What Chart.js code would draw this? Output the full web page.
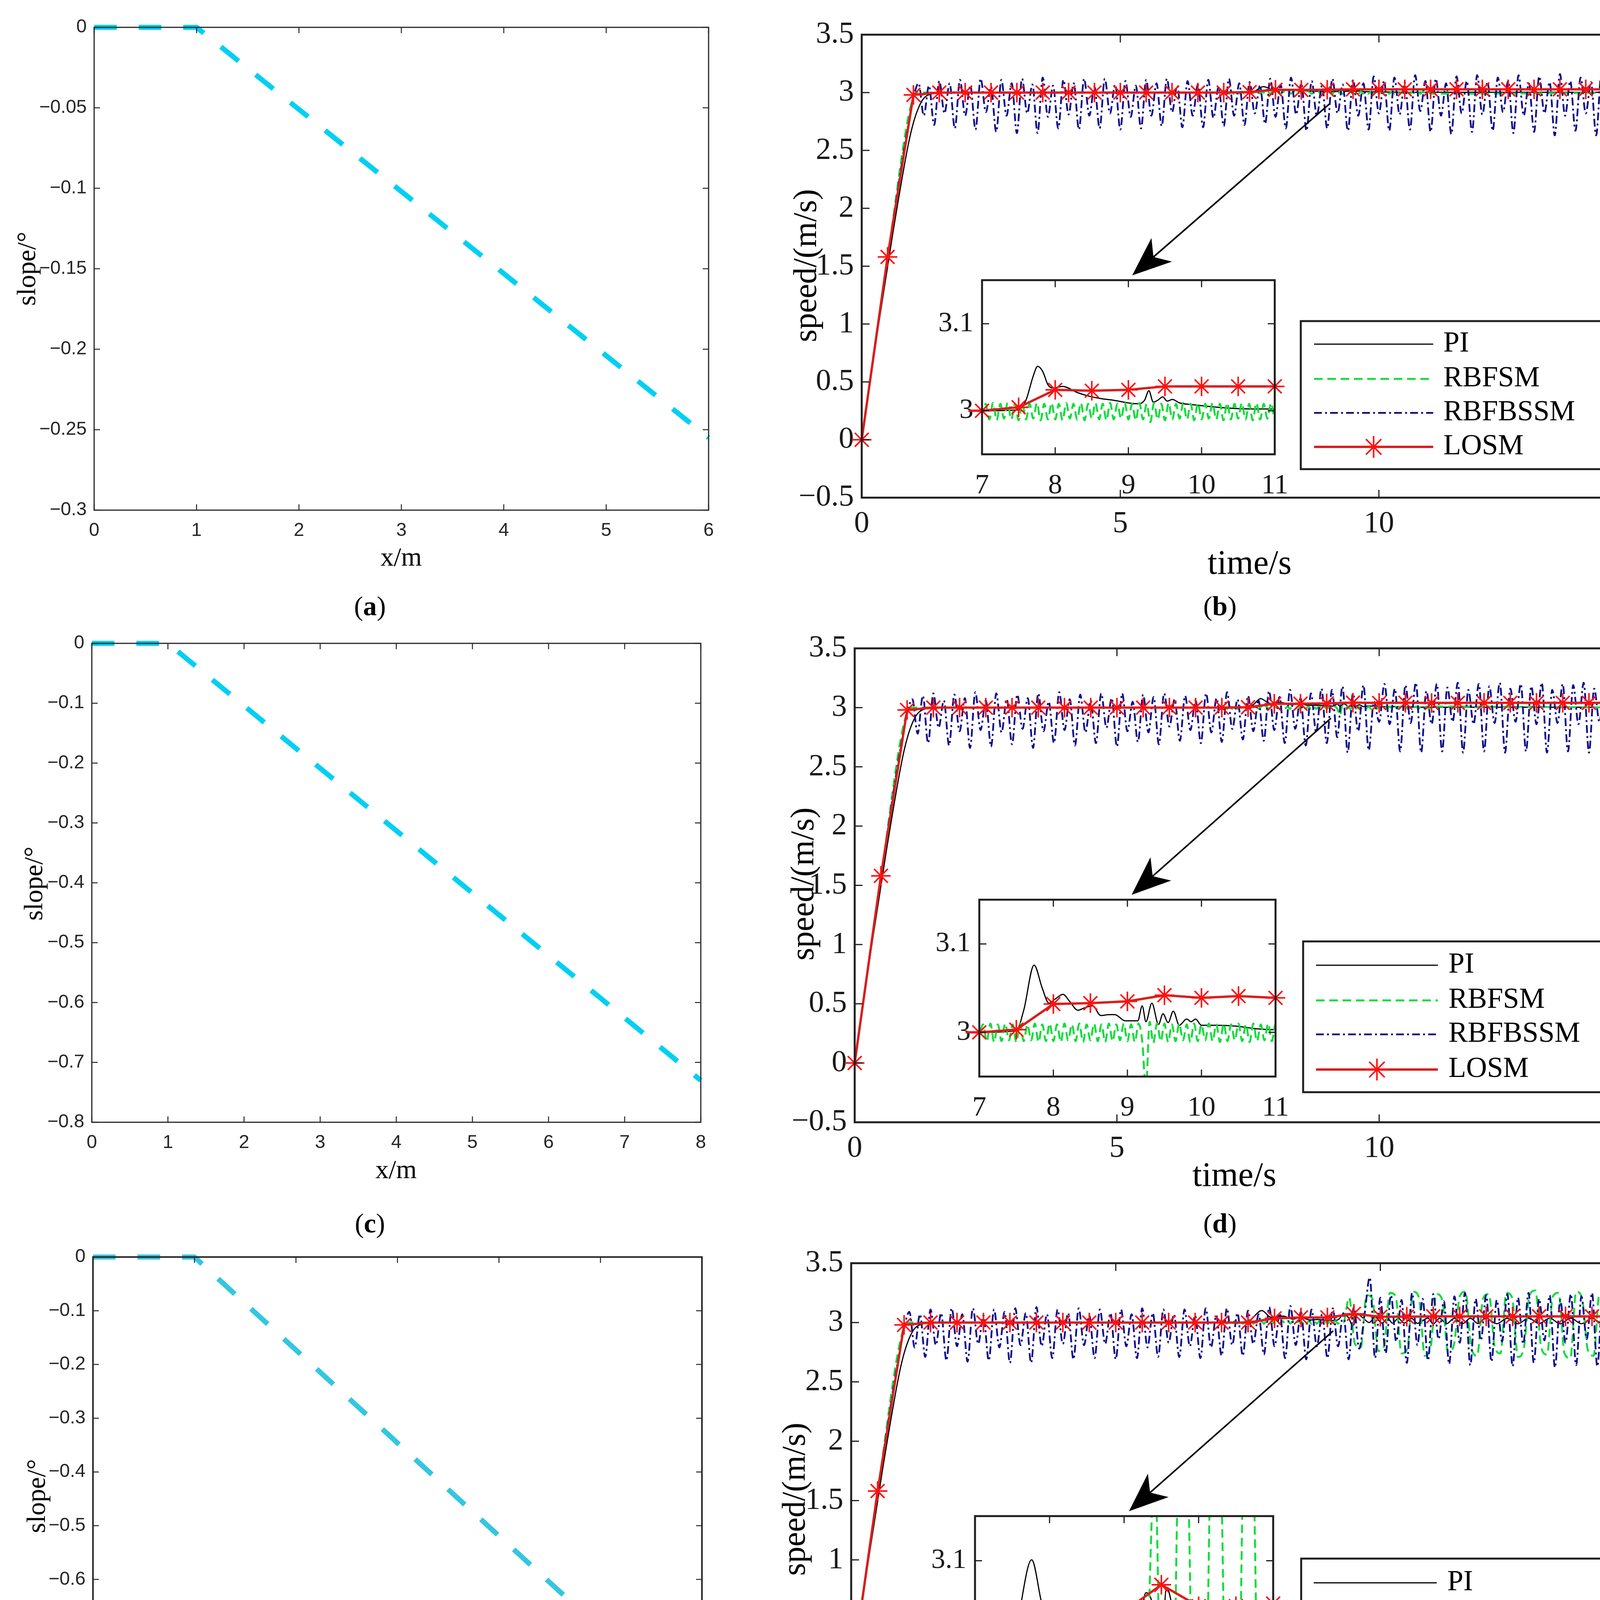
<!DOCTYPE html>
<html>
<head>
<meta charset="utf-8">
<script src="https://cdn.jsdelivr.net/npm/chart.js"></script>
<style>
  html, body { margin: 0; padding: 0; background: #fff; }
  #page { position: relative; width: 4279px; height: 4796px; overflow: hidden; background: #fff; }
  #page canvas { position: absolute; }
  .lbl { position: absolute; white-space: nowrap; line-height: 1; color: #000;
         font-family: "Liberation Serif", "Times New Roman", serif;
         transform: translate(-50%, -50%); }
  .rot { transform: translate(-50%, -50%) rotate(-90deg); }
</style>
</head>
<body>
<div id="page"></div>
<script>
// ---------- slope profiles, left column ----------
const slopeA_x = [0, 1, 6];
const slopeA_y = [0, 0, -0.255];
const slopeC_x = [0, 1, 8];
const slopeC_y = [0, 0, -0.73];
const slopeE_x = [0, 1, 6];
const slopeE_y = [0, 0, -0.865];

const slopeA_xticks = [0, 1, 2, 3, 4, 5, 6];
const slopeA_yticks = [0, -0.05, -0.1, -0.15, -0.2, -0.25, -0.3];
const slopeC_xticks = [0, 1, 2, 3, 4, 5, 6, 7, 8];
const slopeC_yticks = [0, -0.1, -0.2, -0.3, -0.4, -0.5, -0.6, -0.7, -0.8];
const slopeE_xticks = [0, 1, 2, 3, 4, 5, 6];
const slopeE_yticks = [0, -0.1, -0.2, -0.3, -0.4, -0.5, -0.6, -0.7, -0.8, -0.9];

// ---------- speed responses, right column ----------
const timeTicks = [0, 5, 10, 15];
const speedTicks = [-0.5, 0, 0.5, 1, 1.5, 2, 2.5, 3, 3.5];
const zoomTicksX = [7, 8, 9, 10, 11];
const zoomTicksY = [3, 3.1];
const legendNames = ['PI', 'RBFSM', 'RBFBSSM', 'LOSM'];

// LOSM, one marker every 0.5 s
const losmT = [0, 0.5, 1, 1.5, 2, 2.5, 3, 3.5, 4, 4.5, 5, 5.5, 6, 6.5, 7, 7.5,
  8, 8.5, 9, 9.5, 10, 10.5, 11, 11.5, 12, 12.5, 13, 13.5, 14, 14.5, 15];
const losmB = [0, 1.58, 2.98, 3.0, 3.0, 3.0, 3.0, 3.0, 3.0, 3.0, 3.0, 3.0, 3.0, 3.0, 3.0,
  3.004, 3.024, 3.023, 3.024, 3.028, 3.028, 3.028, 3.028, 3.028, 3.028, 3.028, 3.028, 3.028, 3.028, 3.028, 3.028];
const losmD = [0, 1.58, 2.98, 3.0, 3.0, 3.0, 3.0, 3.0, 3.0, 3.0, 3.0, 3.0, 3.0, 3.0, 3.0,
  3.003, 3.032, 3.033, 3.035, 3.042, 3.039, 3.041, 3.039, 3.04, 3.04, 3.04, 3.04, 3.04, 3.04, 3.04, 3.04];
const losmF = [0, 1.58, 2.98, 3.0, 3.0, 3.0, 3.0, 3.0, 3.0, 3.0, 3.0, 3.0, 3.0, 3.0, 3.0,
  3.0, 3.035, 3.043, 3.043, 3.073, 3.049, 3.049, 3.052, 3.052, 3.052, 3.052, 3.052, 3.052, 3.052, 3.052, 3.052];

// PI: start-up ramp shared, then per-case detail
const piRampT = [0, 0.3, 0.6, 0.9, 1.0, 1.1, 1.2, 1.35, 1.5];
const piRampV = [0, 0.92, 1.78, 2.55, 2.74, 2.87, 2.95, 2.99, 3.0];
const piB_t = [7, 7.5, 7.6, 7.7, 7.76, 7.83, 7.9, 7.97, 8.1, 8.3, 8.45, 8.62, 8.8, 9.0, 9.14,
  9.22, 9.28, 9.34, 9.4, 9.47, 9.53, 9.6, 9.7, 9.88, 10.1, 10.37, 10.7, 11, 15];
const piB_v = [3.0, 3.001, 3.012, 3.04, 3.051, 3.045, 3.03, 3.026, 3.028, 3.021, 3.017, 3.014, 3.012, 3.009, 3.008,
  3.012, 3.023, 3.01, 3.012, 3.016, 3.011, 3.013, 3.009, 3.007, 3.005, 3.003, 3.002, 3.002, 3.002];
const piD_t = [7, 7.5, 7.6, 7.74, 7.85, 7.94, 8.03, 8.13, 8.22, 8.33, 8.43, 8.53, 8.64, 8.75, 8.83, 8.97, 9.14,
  9.2, 9.25, 9.33, 9.42, 9.48, 9.55, 9.62, 9.7, 9.8, 9.86, 9.92, 10.0, 10.2, 10.47, 10.75, 11, 15];
const piD_v = [3.0, 3.002, 3.025, 3.076, 3.05, 3.033, 3.038, 3.043, 3.035, 3.025, 3.028, 3.03, 3.019, 3.02, 3.02, 3.013, 3.013,
  3.03, 3.012, 3.033, 3.009, 3.021, 3.011, 3.024, 3.008, 3.015, 3.012, 3.015, 3.008, 3.008, 3.007, 3.004, 3.003, 3.003];
const piF_t = [7, 7.5, 7.58, 7.76, 7.91, 7.99, 8.16, 8.35, 8.49, 8.68, 8.82, 9.01, 9.15, 9.22, 9.29, 9.35, 9.4, 9.48,
  9.57, 9.68, 9.79, 9.9, 10.03, 10.14, 10.23, 10.34, 10.45, 10.59, 10.7, 10.9, 11.0, 11.12, 11.25, 11.4, 11.55,
  11.7, 11.85, 12.0, 12.2, 12.4, 12.6, 12.8, 13.0, 13.2, 13.4, 13.6, 13.8, 14.0, 14.2, 14.4, 14.6, 14.8, 15.0];
const piF_v = [3.0, 3.0, 3.035, 3.101, 3.048, 3.042, 3.054, 3.029, 3.042, 3.022, 3.026, 3.016, 3.017, 3.03, 3.064, 3.06, 3.04, 2.971,
  3.07, 3.035, 3.0, 3.047, 2.995, 3.035, 2.995, 3.035, 2.995, 3.035, 2.993, 3.038, 2.988, 3.036, 2.99, 3.037, 2.99,
  3.036, 2.991, 3.037, 2.99, 3.036, 2.99, 3.037, 2.992, 3.036, 2.99, 3.037, 2.99, 3.036, 2.991, 3.037, 2.99, 3.036, 3.0];

// RBFSM: ramp, then chattering band sampled every 0.05 s from t = 7 s
const rbfRampT = [0, 0.5, 1.0, 1.1];
const rbfRampV = [0, 1.57, 2.96, 3.0];
const rbfBandT0 = 7.0;
const rbfBandStep = 0.05;
const rbfB_band = [
  3.000, 3.008, 2.990, 3.009, 2.989, 3.008, 2.991, 3.009, 2.990, 3.008,
  2.989, 3.009, 2.990, 3.008, 2.991, 3.009, 2.989, 3.008, 2.990, 3.009,
  2.990, 3.008, 2.989, 3.009, 2.991, 3.008, 2.990, 3.009, 2.989, 3.008,
  2.991, 3.009, 2.990, 3.008, 2.989, 3.009, 2.990, 3.008, 2.991, 3.009,
  2.990, 3.008, 2.989, 3.009, 2.990, 3.008, 2.987, 3.009, 2.990, 3.008,
  2.989, 3.009, 2.990, 3.008, 2.991, 3.009, 2.990, 3.008, 2.989, 3.009,
  2.990, 3.008, 2.991, 3.009, 2.990, 3.008, 2.989, 3.009, 2.990, 3.008,
  2.991, 3.009, 2.990, 3.008, 2.989, 3.009, 2.990, 3.008, 2.991, 3.009,
  2.990];
const rbfD_band = [
  3.000, 3.009, 2.990, 3.010, 2.989, 3.009, 2.990, 3.010, 2.991, 3.009,
  2.989, 3.010, 2.990, 3.009, 2.991, 3.010, 2.989, 3.009, 2.990, 3.010,
  2.990, 3.009, 2.989, 3.010, 2.991, 3.009, 2.990, 3.010, 2.989, 3.009,
  2.991, 3.010, 2.990, 3.009, 2.989, 3.010, 2.990, 3.009, 2.991, 3.010,
  2.990, 3.009, 2.989, 3.010, 2.990, 2.935, 3.012, 2.988, 3.010, 2.990,
  3.010, 2.989, 3.009, 2.990, 3.010, 2.991, 3.009, 2.989, 3.010, 2.990,
  3.009, 2.991, 3.010, 2.990, 3.009, 2.989, 3.010, 2.990, 3.009, 2.991,
  3.010, 2.990, 3.009, 2.989, 3.010, 2.990, 3.009, 2.991, 3.010, 2.990,
  3.009];
const rbfF_band = [
  3.000, 3.013, 2.991, 3.014, 2.990, 3.012, 2.992, 3.014, 2.990, 3.013,
  2.991, 3.014, 2.990, 3.013, 2.992, 3.014, 2.990, 3.012, 2.991, 3.014,
  2.990, 3.013, 2.991, 3.014, 2.990, 3.013, 2.992, 3.014, 2.990, 3.012,
  2.991, 3.014, 2.990, 3.013, 2.991, 3.014, 2.990, 3.013, 2.992, 3.014,
  2.990, 3.013, 2.991, 3.014, 2.990, 3.008];
const rbfTailT = [15];
const rbfTailV = [3.0];
// case (f): large swings after the slope change, sampled every 0.11 s from 9.30 s
const rbfF_swingT0 = 9.30;
const rbfF_swingStep = 0.11;
const rbfF_swing = [
  3.00, 3.21, 2.82, 2.79, 3.23, 3.20, 2.76, 2.80, 3.25, 3.22,
  2.74, 2.78, 3.26, 3.21, 2.72, 2.79, 3.24, 3.19, 2.75, 2.81,
  3.22, 3.26, 2.78, 2.72, 3.20, 3.24, 2.80, 2.74, 3.25, 3.21,
  2.71, 2.78, 3.23, 3.27, 2.79, 2.73, 3.22, 3.25, 2.74, 2.70,
  3.26, 3.21, 2.77, 2.72, 3.24, 3.20, 2.73, 2.79, 3.27, 3.22,
  2.76, 2.80, 3.10];

// RBFBSSM: ramp, then sampled every 0.1 s from t = 1.1 s
const bssmRampT = [0, 0.5, 1.0];
const bssmRampV = [0, 1.57, 2.95];
const bssmT0 = 1.1;
const bssmStep = 0.1;
const bssmB = [
  3.08, 2.80, 3.06, 2.72, 3.10, 2.82, 3.08, 2.69, 3.11, 2.80,
  3.06, 2.68, 3.12, 2.83, 3.05, 2.66, 3.11, 2.80, 3.08, 2.65,
  3.12, 2.82, 3.07, 2.65, 3.13, 2.79, 3.06, 2.69, 3.11, 2.81,
  3.08, 2.68, 3.12, 2.80, 3.05, 2.69, 3.12, 2.82, 3.07, 2.68,
  3.10, 2.79, 3.06, 2.69, 3.11, 2.80, 3.08, 2.71, 3.12, 2.83,
  3.06, 2.70, 3.10, 2.80, 3.07, 2.70, 3.11, 2.78, 3.05, 2.71,
  3.12, 2.80, 3.08, 2.72, 3.09, 2.82, 3.06, 2.73, 3.12, 2.79,
  3.07, 2.69, 3.13, 2.81, 3.08, 2.67, 3.10, 2.80, 3.06, 2.69,
  3.12, 2.82, 3.07, 2.67, 3.11, 2.80, 3.08, 2.68, 3.14, 2.82,
  3.10, 2.67, 3.13, 2.81, 3.09, 2.68, 3.15, 2.84, 3.10, 2.66,
  3.12, 2.80, 3.08, 2.64, 3.14, 2.82, 3.10, 2.66, 3.15, 2.81,
  3.09, 2.67, 3.13, 2.83, 3.10, 2.65, 3.15, 2.80, 3.08, 2.66,
  3.14, 2.82, 3.09, 2.63, 3.16, 2.80, 3.10, 2.67, 3.13, 2.82,
  3.09, 2.63, 3.15, 2.81, 3.10, 2.66, 3.13, 2.80, 3.08, 2.78];
const bssmD = [
  3.07, 2.78, 3.10, 2.70, 3.12, 2.83, 3.06, 2.68, 3.11, 2.80,
  3.08, 2.66, 3.13, 2.81, 3.06, 2.67, 3.12, 2.79, 3.07, 2.69,
  3.11, 2.82, 3.08, 2.66, 3.12, 2.80, 3.05, 2.70, 3.13, 2.81,
  3.07, 2.68, 3.11, 2.79, 3.06, 2.70, 3.12, 2.83, 3.08, 2.67,
  3.12, 2.80, 3.05, 2.71, 3.11, 2.79, 3.09, 2.69, 3.12, 2.84,
  3.07, 2.72, 3.10, 2.81, 3.06, 2.70, 3.12, 2.79, 3.08, 2.71,
  3.13, 2.82, 3.07, 2.73, 3.10, 2.80, 3.06, 2.72, 3.14, 2.81,
  3.09, 2.70, 3.15, 2.82, 3.08, 2.68, 3.12, 2.79, 3.16, 2.70,
  3.15, 2.75, 3.18, 2.62, 3.12, 2.80, 3.19, 2.64, 3.05, 2.88,
  3.20, 2.86, 3.16, 2.63, 3.19, 2.87, 3.21, 2.62, 3.14, 2.86,
  3.20, 2.63, 3.17, 2.88, 3.21, 2.62, 3.15, 2.86, 3.20, 2.63,
  3.18, 2.87, 3.21, 2.62, 3.16, 2.88, 3.20, 2.63, 3.18, 2.86,
  3.21, 2.62, 3.15, 2.87, 3.20, 2.63, 3.19, 2.86, 3.21, 2.62,
  3.16, 2.88, 3.20, 2.63, 3.18, 2.86, 3.21, 2.64, 3.15, 2.90];
const bssmF = [
  3.09, 2.79, 3.07, 2.71, 3.11, 2.81, 3.08, 2.68, 3.12, 2.80,
  3.07, 2.67, 3.12, 2.82, 3.06, 2.68, 3.11, 2.79, 3.09, 2.66,
  3.12, 2.81, 3.08, 2.66, 3.13, 2.80, 3.07, 2.70, 3.11, 2.82,
  3.08, 2.69, 3.12, 2.81, 3.06, 2.70, 3.11, 2.82, 3.08, 2.69,
  3.11, 2.80, 3.07, 2.70, 3.12, 2.79, 3.08, 2.71, 3.11, 2.83,
  3.07, 2.71, 3.11, 2.80, 3.06, 2.70, 3.12, 2.79, 3.06, 2.72,
  3.12, 2.81, 3.08, 2.72, 3.10, 2.82, 3.07, 2.73, 3.13, 2.80,
  3.08, 2.70, 3.14, 2.81, 3.09, 2.69, 3.11, 2.80, 3.07, 2.70,
  3.12, 2.80, 3.08, 2.69, 3.13, 2.78, 3.06, 3.38, 2.70, 3.21,
  2.74, 3.23, 2.84, 3.19, 2.66, 3.25, 2.81, 3.20, 2.68, 3.24,
  2.86, 3.18, 2.65, 3.22, 2.83, 3.25, 2.64, 3.20, 2.85, 3.23,
  2.67, 3.19, 2.84, 3.24, 2.63, 3.21, 2.82, 3.25, 2.66, 3.20,
  2.85, 3.23, 2.62, 3.19, 2.83, 3.24, 2.64, 3.22, 2.86, 3.25,
  2.63, 3.20, 2.84, 3.23, 2.62, 3.21, 2.85, 3.19, 2.70, 2.95];

// ---------- page layout (pixel boxes: left, top, right, bottom) ----------
const BOX = {
  a: [241, 70, 1814, 1306], c: [235, 1647, 1794, 2873], e: [238, 3218, 1797, 4456],
  b: [2206, 82, 4192, 1274], d: [2188, 1653, 4202, 2873], f: [2179, 3227, 4211, 4449],
  bz: [2514, 702, 3286, 1163], dz: [2507, 2288, 3288, 2756], fz: [2496, 3866, 3282, 4338]
};
const LEGEND = {
  b: {box: [3330, 822, 4116, 1201], rows: [881, 970, 1057, 1144], sample: [3364, 3669], text: 3695},
  d: {box: [3336, 2410, 4133, 2796], rows: [2471, 2561, 2648, 2738], sample: [3369, 3681], text: 3708},
  f: {box: [3331, 3990, 4133, 4378], rows: [4052, 4142, 4230, 4320], sample: [3363, 3678], text: 3705}
};
const ARROW = {
  b: {from: [9.04, 2.90], to: [5.23, 1.42]},
  d: {from: [9.08, 2.91], to: [5.28, 1.42]},
  f: {from: [9.11, 2.93], to: [5.25, 1.41]}
};

const STYLE = {
  PI: {borderColor: '#000000', borderWidth: 3},
  RBFSM: {borderColor: '#14dc3c', borderWidth: 5, borderDash: [22, 12]},
  RBFBSSM: {borderColor: '#0c0c8c', borderWidth: 4.5, borderDash: [20, 8, 5, 8]},
  LOSM: {borderColor: '#d81e1e', borderWidth: 6, pointStyle: 'star', pointRadius: 25,
         pointBorderColor: '#ff1010', pointBorderWidth: 4}
};

const page = document.getElementById('page');
const fmt = (v) => { const r = Math.round(v * 1000) / 1000; return (r < 0 ? '\u2212' : '') + String(Math.abs(r)); };
const pairs = (ts, vs) => ts.map((t, i) => ({x: t, y: vs[i]}));
const grid = (t0, dt, vs) => vs.map((v, i) => ({x: +(t0 + i * dt).toFixed(3), y: v}));

function addCanvas(box, pad) {
  const c = document.createElement('canvas');
  const w = box[2] - box[0] + pad.l + pad.r;
  const h = box[3] - box[1] + pad.t + pad.b;
  c.width = w; c.height = h;
  c.style.left = (box[0] - pad.l) + 'px';
  c.style.top = (box[1] - pad.t) + 'px';
  c.style.width = w + 'px'; c.style.height = h + 'px';
  page.appendChild(c);
  return c;
}

function axis(min, max, ticks, font, color, gap, size, horizontal) {
  return {
    type: 'linear', min: min, max: max,
    grid: {display: false, drawTicks: false},
    border: {display: false},
    ticks: {font: font, color: color, padding: gap, autoSkip: false, maxRotation: 0, minRotation: 0,
            callback: (v) => fmt(v)},
    afterBuildTicks: (s) => { s.ticks = ticks.map((v) => ({value: v})); },
    afterFit: (s) => { if (horizontal) s.height = size; else s.width = size; }
  };
}

function drawStar(ctx, x, y, r, color, w) {
  ctx.save();
  ctx.strokeStyle = color; ctx.lineWidth = w; ctx.setLineDash([]);
  ctx.beginPath();
  [0, 45, 90, 135].forEach((deg) => {
    const a = deg * Math.PI / 180;
    ctx.moveTo(x - Math.cos(a) * r, y - Math.sin(a) * r);
    ctx.lineTo(x + Math.cos(a) * r, y + Math.sin(a) * r);
  });
  ctx.stroke();
  ctx.restore();
}

// box with inward ticks on all four sides (and white background for insets)
const framePlugin = {
  id: 'frame',
  beforeDatasetsDraw(chart, args, o) {
    if (!o.fill) return;
    const a = chart.chartArea, ctx = chart.ctx;
    ctx.save(); ctx.fillStyle = '#fff';
    ctx.fillRect(a.left, a.top, a.right - a.left, a.bottom - a.top);
    ctx.restore();
  },
  afterDraw(chart, args, o) {
    const ctx = chart.ctx, a = chart.chartArea, x = chart.scales.x, y = chart.scales.y;
    ctx.save();
    ctx.strokeStyle = o.color; ctx.lineWidth = o.tickWidth;
    ctx.beginPath();
    x.ticks.forEach((t) => {
      const p = x.getPixelForValue(t.value);
      ctx.moveTo(p, a.bottom); ctx.lineTo(p, a.bottom - o.len);
      ctx.moveTo(p, a.top); ctx.lineTo(p, a.top + o.len);
    });
    y.ticks.forEach((t) => {
      const p = y.getPixelForValue(t.value);
      ctx.moveTo(a.left, p); ctx.lineTo(a.left + o.len, p);
      ctx.moveTo(a.right, p); ctx.lineTo(a.right - o.len, p);
    });
    ctx.stroke();
    ctx.lineWidth = o.width;
    ctx.strokeRect(a.left, a.top, a.right - a.left, a.bottom - a.top);
    ctx.restore();
  }
};

const arrowPlugin = {
  id: 'arrow',
  afterDatasetsDraw(chart, args, o) {
    if (!o.from) return;
    const x = chart.scales.x, y = chart.scales.y, ctx = chart.ctx;
    const x1 = x.getPixelForValue(o.from[0]), y1 = y.getPixelForValue(o.from[1]);
    const x2 = x.getPixelForValue(o.to[0]), y2 = y.getPixelForValue(o.to[1]);
    const ang = Math.atan2(y2 - y1, x2 - x1);
    const ux = Math.cos(ang), uy = Math.sin(ang), px = -uy, py = ux;
    const len = 100, half = 40, notch = 72;
    const bx = x2 - ux * notch, by = y2 - uy * notch;
    ctx.save();
    ctx.strokeStyle = '#000'; ctx.fillStyle = '#000'; ctx.lineWidth = 4;
    ctx.beginPath(); ctx.moveTo(x1, y1); ctx.lineTo(bx, by); ctx.stroke();
    ctx.beginPath();
    ctx.moveTo(x2, y2);
    ctx.lineTo(x2 - ux * len + px * half, y2 - uy * len + py * half);
    ctx.lineTo(bx, by);
    ctx.lineTo(x2 - ux * len - px * half, y2 - uy * len - py * half);
    ctx.closePath(); ctx.fill();
    ctx.restore();
  }
};

const legendPlugin = {
  id: 'boxLegend',
  afterDraw(chart, args, o) {
    if (!o.box) return;
    const ctx = chart.ctx, ox = o.origin[0], oy = o.origin[1];
    const L = o.box[0] - ox, T = o.box[1] - oy, R = o.box[2] - ox, B = o.box[3] - oy;
    const x1 = o.sample[0] - ox, x2 = o.sample[1] - ox, tx = o.text - ox;
    ctx.save();
    ctx.fillStyle = '#fff'; ctx.fillRect(L, T, R - L, B - T);
    ctx.strokeStyle = '#1e1e1e'; ctx.lineWidth = 5; ctx.strokeRect(L, T, R - L, B - T);
    legendNames.forEach((name, i) => {
      const st = STYLE[name], yy = o.rows[i] - oy;
      ctx.setLineDash(st.borderDash || []);
      ctx.strokeStyle = st.borderColor; ctx.lineWidth = st.borderWidth;
      ctx.beginPath(); ctx.moveTo(x1, yy); ctx.lineTo(x2, yy); ctx.stroke();
      ctx.setLineDash([]);
      if (st.pointStyle) drawStar(ctx, (x1 + x2) / 2, yy, st.pointRadius + 3, st.pointBorderColor, st.pointBorderWidth);
      ctx.fillStyle = '#000';
      ctx.font = '74px "Liberation Serif"';
      ctx.textBaseline = 'middle'; ctx.textAlign = 'left';
      ctx.fillText(name, tx, yy);
    });
    ctx.restore();
  }
};

function seriesSet(name, points, clipPx) {
  const st = STYLE[name];
  const set = {
    label: name, data: points, fill: false,
    borderColor: st.borderColor, borderWidth: st.borderWidth, borderDash: st.borderDash || [],
    pointRadius: st.pointRadius || 0, pointHoverRadius: st.pointRadius || 0,
    pointStyle: st.pointStyle || 'circle',
    pointBorderColor: st.pointBorderColor || st.borderColor,
    pointBackgroundColor: st.pointBorderColor || st.borderColor,
    pointBorderWidth: st.pointBorderWidth || 0,
    tension: 0, cubicInterpolationMode: st.pointStyle ? 'default' : 'monotone'
  };
  if (clipPx) set.clip = {left: clipPx, right: clipPx, top: 0, bottom: 0};
  return set;
}

// series for one speed case; the zoom view leaves out RBFBSSM
function speedSets(c, zoomed) {
  const pi = pairs(piRampT, piRampV).concat(pairs(c.piT, c.piV));
  let rbf = pairs(rbfRampT, rbfRampV).concat(grid(rbfBandT0, rbfBandStep, c.band));
  rbf = c.swing ? rbf.concat(grid(rbfF_swingT0, rbfF_swingStep, c.swing)) : rbf.concat(pairs(rbfTailT, rbfTailV));
  const bssm = pairs(bssmRampT, bssmRampV).concat(grid(bssmT0, bssmStep, c.bssm));
  const losm = pairs(losmT, c.losm);
  const sets = [seriesSet('LOSM', losm, 35)];
  if (!zoomed) sets.push(seriesSet('RBFBSSM', bssm));
  sets.push(seriesSet('RBFSM', rbf));
  sets.push(seriesSet('PI', pi));
  return sets;
}

const common = {responsive: false, animation: false, devicePixelRatio: 1, events: []};
const serif78 = {family: 'Liberation Serif', size: 78};
const serif72 = {family: 'Liberation Serif', size: 72};
const sans48 = {family: 'Liberation Sans', size: 48};

function speedPanel(key, c) {
  const pad = {l: 300, t: 60, r: 60, b: 160};
  const box = BOX[key];
  const cv = addCanvas(box, pad);
  new Chart(cv, {
    type: 'line',
    data: {datasets: speedSets(c, false)},
    options: Object.assign({}, common, {
      layout: {padding: {left: 0, top: pad.t, right: pad.r, bottom: 0}},
      plugins: {
        legend: {display: false}, tooltip: {enabled: false},
        frame: {color: '#1e1e1e', width: 5, tickWidth: 3, len: 20},
        arrow: ARROW[key],
        boxLegend: Object.assign({origin: [box[0] - pad.l, box[1] - pad.t]}, LEGEND[key])
      },
      scales: {
        x: axis(0, 15, timeTicks, serif78, '#1a1a1a', 21, pad.b, true),
        y: axis(-0.5, 3.5, speedTicks, serif78, '#1a1a1a', 20, pad.l, false)
      }
    }),
    plugins: [framePlugin, arrowPlugin, legendPlugin]
  });
  const zpad = {l: 150, t: 50, r: 50, b: 130};
  const zcv = addCanvas(BOX[key + 'z'], zpad);
  new Chart(zcv, {
    type: 'line',
    data: {datasets: speedSets(c, true)},
    options: Object.assign({}, common, {
      layout: {padding: {left: 0, top: zpad.t, right: zpad.r, bottom: 0}},
      plugins: {
        legend: {display: false}, tooltip: {enabled: false},
        frame: {color: '#1e1e1e', width: 5, tickWidth: 3, len: 18, fill: true}
      },
      scales: {
        x: axis(7, 11, zoomTicksX, serif72, '#1a1a1a', 38, zpad.b, true),
        y: axis(2.95, 3.15, zoomTicksY, serif72, '#1a1a1a', 22, zpad.l, false)
      }
    }),
    plugins: [framePlugin]
  });
}

function slopePanel(key, xs, ys, xticks, yticks, color, frameW) {
  const pad = {l: 200, t: 50, r: 60, b: 180};
  const cv = addCanvas(BOX[key], pad);
  new Chart(cv, {
    type: 'line',
    data: {datasets: [{
      data: pairs(xs, ys), borderColor: color, borderWidth: 13, borderDash: [58, 56],
      borderCapStyle: 'butt', pointRadius: 0, tension: 0, fill: false, clip: false
    }]},
    options: Object.assign({}, common, {
      layout: {padding: {left: 0, top: pad.t, right: pad.r, bottom: 0}},
      plugins: {
        legend: {display: false}, tooltip: {enabled: false},
        frame: {color: '#262626', width: frameW, tickWidth: 2.5, len: 15}
      },
      scales: {
        x: axis(xticks[0], xticks[xticks.length - 1], xticks, sans48, '#262626', 24, pad.b, true),
        y: axis(yticks[yticks.length - 1], yticks[0], yticks, sans48, '#262626', 19, pad.l, false)
      }
    }),
    plugins: [framePlugin]
  });
}

slopePanel('a', slopeA_x, slopeA_y, slopeA_xticks, slopeA_yticks, '#00d0f2', 3);
slopePanel('c', slopeC_x, slopeC_y, slopeC_xticks, slopeC_yticks, '#00d0f2', 3);
slopePanel('e', slopeE_x, slopeE_y, slopeE_xticks, slopeE_yticks, '#34c6e0', 4);

speedPanel('b', {piT: piB_t, piV: piB_v, band: rbfB_band, bssm: bssmB, losm: losmB});
speedPanel('d', {piT: piD_t, piV: piD_v, band: rbfD_band, bssm: bssmD, losm: losmD});
speedPanel('f', {piT: piF_t, piV: piF_v, band: rbfF_band, swing: rbfF_swing, bssm: bssmF, losm: losmF});

// axis titles and panel captions
const TEXTS = [
  ['x/m', 1027, 1425, 68, false], ['slope/\u00b0', 67, 688, 68, true],
  ['x/m', 1014, 2993, 68, false], ['slope/\u00b0', 85, 2262, 68, true],
  ['x/m', 1025, 4575, 68, false], ['slope/\u00b0', 92, 3830, 68, true],
  ['time/s', 3199, 1440, 88, false], ['speed/(m/s)', 2061, 680, 84, true],
  ['time/s', 3160, 3007, 88, false], ['speed/(m/s)', 2054, 2263, 84, true],
  ['time/s', 3180, 4587, 88, false], ['speed/(m/s)', 2032, 3838, 84, true]
];
TEXTS.forEach(([t, x, y, size, rot]) => {
  const d = document.createElement('div');
  d.className = rot ? 'lbl rot' : 'lbl';
  d.textContent = t;
  d.style.left = x + 'px'; d.style.top = y + 'px'; d.style.fontSize = size + 'px';
  page.appendChild(d);
});
const CAPTIONS = [['a', 947, 1552], ['b', 3123, 1552], ['c', 947, 3132], ['d', 3123, 3132], ['e', 941, 4709], ['f', 3123, 4709]];
CAPTIONS.forEach(([letter, x, y]) => {
  const d = document.createElement('div');
  d.className = 'lbl';
  d.style.left = x + 'px'; d.style.top = y + 'px'; d.style.fontSize = '70px';
  const b = document.createElement('b');
  b.textContent = letter;
  d.appendChild(document.createTextNode('('));
  d.appendChild(b);
  d.appendChild(document.createTextNode(')'));
  page.appendChild(d);
});
</script>
</body>
</html>
